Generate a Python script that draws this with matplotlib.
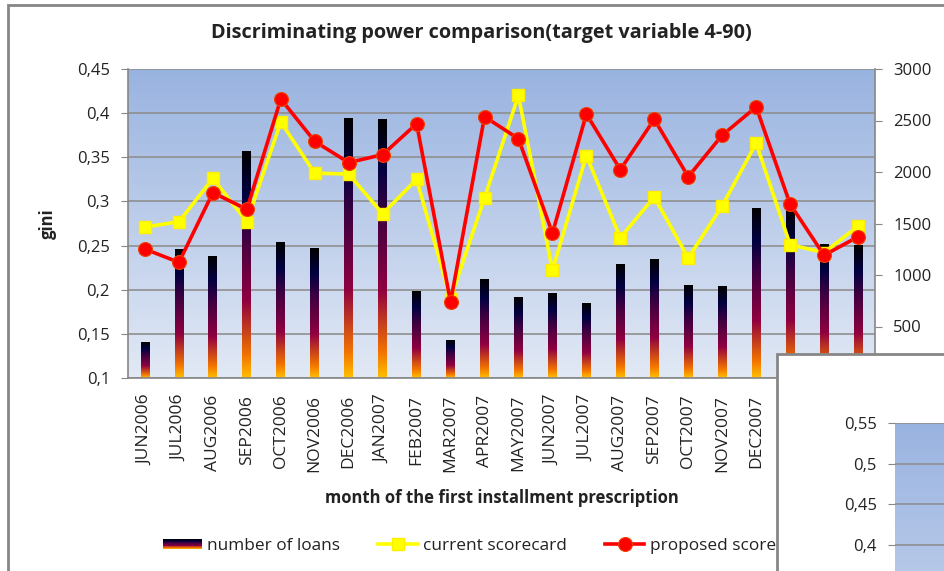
import numpy as np
import matplotlib
matplotlib.use("Agg")
import matplotlib.pyplot as plt
from matplotlib.colors import LinearSegmentedColormap
from matplotlib.patches import Rectangle
from matplotlib.legend_handler import HandlerBase
from matplotlib.ticker import FuncFormatter

plt.rcParams['font.family'] = ['Open Sans', 'DejaVu Sans']

months = ["JUN2006", "JUL2006", "AUG2006", "SEP2006", "OCT2006", "NOV2006",
          "DEC2006", "JAN2007", "FEB2007", "MAR2007", "APR2007", "MAY2007",
          "JUN2007", "JUL2007", "AUG2007", "SEP2007", "OCT2007", "NOV2007",
          "DEC2007", "JAN2008", "FEB2008", "MAR2008"]
loans = [340, 1245, 1175, 2200, 1315, 1260, 2520, 2505, 840, 365, 960,
         780, 820, 720, 1105, 1150, 895, 885, 1645, 1640, 1300, 1290]
current = [0.271, 0.277, 0.326, 0.277, 0.390, 0.332, 0.331, 0.286, 0.325,
           0.190, 0.304, 0.420, 0.222, 0.352, 0.259, 0.305, 0.236, 0.295,
           0.366, 0.251, 0.242, 0.272]
proposed = [0.246, 0.231, 0.310, 0.291, 0.416, 0.368, 0.344, 0.353, 0.388,
            0.186, 0.396, 0.371, 0.264, 0.399, 0.336, 0.393, 0.328, 0.375,
            0.407, 0.297, 0.239, 0.260]
gini_ticks = [0.1, 0.15, 0.2, 0.25, 0.3, 0.35, 0.4, 0.45]
loan_ticks = [0, 500, 1000, 1500, 2000, 2500, 3000]
inset_ticks = [0.4, 0.45, 0.5, 0.55]

GRAY = '#868686'
GRID = '#8f8f8f'
TXT = '#222222'

# excel-like "late sunset" fill, bottom -> top
sunset = LinearSegmentedColormap.from_list('sunset', [
    (0.0, '#FFBF00'), (0.10, '#F27300'), (0.34, '#8F0040'),
    (0.62, '#400040'), (0.81, '#000040'), (1.0, '#000000')])
sky = LinearSegmentedColormap.from_list('sky', ['#E2E9F5', '#99B3E0'])

comma = FuncFormatter(lambda v, p: f"{v:g}".replace('.', ','))

W, H = 945, 571
BOX_X, BOX_Y = 777, 354   # corner of the second chart window
fig = plt.figure(figsize=(W / 100, H / 100), dpi=100)

ax = fig.add_axes([128 / W, 1 - 378 / H, 747 / W, 309 / H])
ax2 = ax.twinx()
ax.set_zorder(ax2.get_zorder() + 1)
ax.patch.set_visible(False)

x = np.arange(len(months))

# plot background
grad = np.linspace(0, 1, 256).reshape(-1, 1)
ax2.imshow(grad, extent=[0, 1, 0, 1], transform=ax2.transAxes, origin='lower',
           cmap=sky, aspect='auto', zorder=0)
for g in gini_ticks:
    ax2.plot([0, 1], [g, g], transform=ax.get_yaxis_transform(), color=GRID,
             lw=1.2, zorder=1)

bars = ax2.bar(x, loans, width=0.26, facecolor='none', linewidth=0, zorder=2)
for b in bars:
    x0, w, h = b.get_x(), b.get_width(), b.get_height()
    ax2.imshow(grad, extent=[x0, x0 + w, 0, h], origin='lower', cmap=sunset,
               aspect='auto', clip_path=b, zorder=2)

ax.plot(x, current, color='#FFFF00', lw=2.6, marker='s', ms=9,
        mec='#FFEE00', label='current scorecard', zorder=3)
ax.plot(x, proposed, color='#FF0000', lw=2.6, marker='o', ms=10,
        mec='#F04000', mew=0.8, label='proposed scorecard', zorder=4)

ax.set_xlim(-0.5, len(months) - 0.5)
ax2.set_xlim(-0.5, len(months) - 0.5)
ax.set_ylim(0.1, 0.45)
ax2.set_ylim(0, 3000)

ax.set_yticks(gini_ticks)
ax.yaxis.set_major_formatter(comma)
ax2.set_yticks(loan_ticks)
ax.set_xticks(x)
ax.set_xticklabels(months, rotation=90)

ax.tick_params(axis='x', length=0, pad=12, labelsize=12.5, labelcolor=TXT)
ax.tick_params(axis='y', length=5, color=GRAY, pad=8, labelsize=12, labelcolor=TXT)
ax2.tick_params(axis='y', length=5, color=GRAY, pad=8, labelsize=12, labelcolor=TXT)

# month labels that sit under the other window are not visible
fig.canvas.draw()
for lab, xi in zip(ax.get_xticklabels(), x):
    px = ax.transData.transform((xi, 0))[0]
    if px > BOX_X:
        lab.set_visible(False)

for s in ['top', 'right']:
    ax.spines[s].set_visible(False)
for s in ['top', 'left', 'bottom']:
    ax2.spines[s].set_visible(False)
for sp in [ax.spines['left'], ax.spines['bottom'], ax2.spines['right']]:
    sp.set_color(GRAY)
    sp.set_linewidth(1.2)

ax.set_ylabel('gini', fontweight='bold', fontsize=12, color=TXT)
ax.yaxis.set_label_coords(-0.095, 0.5)
ax.set_xlabel('month of the first installment prescription', fontweight='bold',
              fontsize=12, color=TXT, labelpad=12)

fig.text(481 / W, 1 - 33 / H, 'Discriminating power comparison(target variable 4-90)',
         ha='center', va='center', fontsize=14.3, fontweight='bold', color=TXT)


class GradientHandler(HandlerBase):
    def create_artists(self, legend, orig_handle, xdescent, ydescent,
                       width, height, fontsize, trans):
        n = 12
        hh = height * 0.75
        y0 = -ydescent + (height - hh) / 2
        out = []
        for i in range(n):
            r = Rectangle((-xdescent, y0 + hh * i / n), width, hh / n + 0.2,
                          facecolor=sunset((i + 0.5) / n), edgecolor='none',
                          transform=trans)
            out.append(r)
        return out


bar_handle = Rectangle((0, 0), 1, 1)
handles = [bar_handle] + ax.get_lines()
labels = ['number of loans', 'current scorecard', 'proposed scorecard']
fig.legend(handles, labels, loc='center', bbox_to_anchor=(487 / W, 1 - 546 / H),
           ncol=3, frameon=False, fontsize=12.4, handlelength=2.3,
           handletextpad=0.3, columnspacing=2.2,
           handler_map={Rectangle: GradientHandler()}, labelcolor=TXT)

# chart frame
fig.add_artist(Rectangle((8 / W, -0.2), 1.5, 1.2 - 5 / H, transform=fig.transFigure,
                         facecolor='none', edgecolor=GRAY, lw=2, zorder=0.5))

# second chart window lying over the corner
fig.add_artist(Rectangle((BOX_X / W, -0.2), 1, 0.2 + 1 - BOX_Y / H,
                         transform=fig.transFigure, facecolor='white',
                         edgecolor=GRAY, lw=2, zorder=10))
ax3 = fig.add_axes([895 / W, 0, 0.2, (H - 423) / H])
ax3.set_zorder(11)
ax3.set_ylim(0.55 - (H - 423) / 40.7 * 0.05, 0.55)
ax3.set_xlim(0, 1)
ax3.imshow(grad, extent=[0, 1, 0, 1], transform=ax3.transAxes, origin='lower',
           cmap=LinearSegmentedColormap.from_list('sky2', ['#B6C8E9', '#99B3E0']),
           aspect='auto', zorder=0)
ax3.set_yticks(inset_ticks)
ax3.yaxis.set_major_formatter(comma)
ax3.set_xticks([])
ax3.grid(axis='y', color=GRID, lw=1.2)
ax3.tick_params(axis='y', length=5, color=GRAY, pad=8, labelsize=12, labelcolor=TXT)
for s in ax3.spines.values():
    s.set_visible(False)

fig.savefig('out.png', dpi=100)
